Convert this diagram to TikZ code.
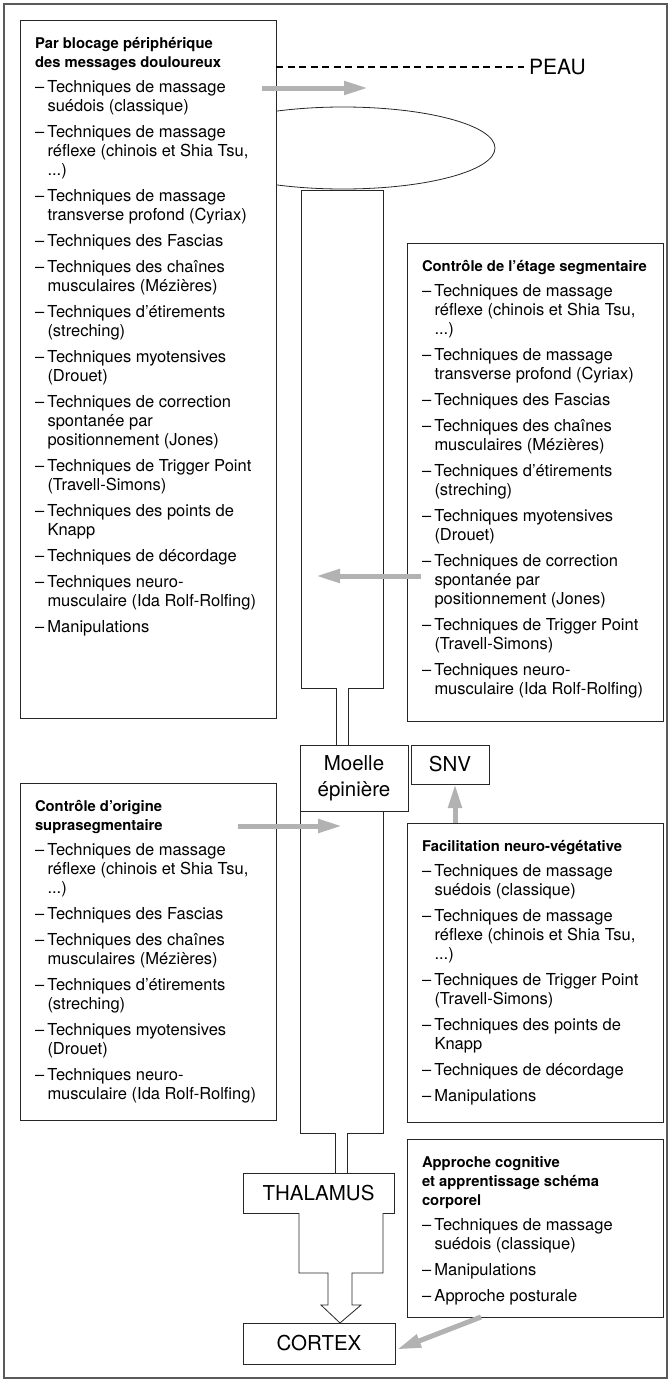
\documentclass[tikz,border=0pt]{standalone}
\usepackage{fontspec}
\setmainfont{TeX Gyre Heros}
\usetikzlibrary{arrows.meta,
                calc,
                positioning}
\newcommand{\dsh}{\makebox[12.5pt][l]{–}}
\newcommand{\ttl}[1]{\multicolumn{2}{@{}l@{}}{\fontsize{14.8}{19}\selectfont\bfseries #1}}
\newcommand{\bloc}[2]{\parbox[c][#1][t]{226pt}{\vspace*{15pt}\noindent
  \begin{tabular}[t]{@{}l@{}l@{}}#2\end{tabular}}}

\begin{document}
\begin{tikzpicture}[x=1pt, y=-1pt,
  TBOX/.style = {draw=black!85, line width=0.9pt, fill=white,
                 anchor=north west, inner xsep=15pt, inner ysep=0pt,
                 outer sep=0pt, font=\fontsize{16.5}{19}\selectfont},
   LBL/.style = {draw=black!85, line width=0.9pt, fill=white,
                 anchor=north west, inner sep=0pt, outer sep=0pt,
                 align=center, font=\fontsize{20.5}{26}\selectfont},
    GA/.style = {draw=black!30, line width=5pt,
                 -{Triangle[length=24pt,width=13pt]}},% Gray Arrow
  TUBE/.style = {draw=black!85, line width=0.8pt}%  spinal tube
                        ]
\useasboundingbox (0,0) rectangle (671,1382);
\draw[line width=1.6pt, black!65] (4,4) rectangle (667,1378);
% skin
\draw[TUBE] (343,148) ellipse [x radius=152pt, y radius=41pt];
% left boxes
\node[TBOX] (blocage) at (20,20) {\bloc{698pt}{%
  \ttl{Par blocage périphérique}\\
  \ttl{des messages douloureux}\\[6pt]
  \dsh & Techniques de massage\\
       & suédois (classique)\\[7pt]
  \dsh & Techniques de massage\\
       & réflexe (chinois et Shia Tsu,\\
       & ...)\\[7pt]
  \dsh & Techniques de massage\\
       & transverse profond (Cyriax)\\[7pt]
  \dsh & Techniques des Fascias\\[7pt]
  \dsh & Techniques des chaînes\\
       & musculaires (Mézières)\\[7pt]
  \dsh & Techniques d’étirements\\
       & (streching)\\[7pt]
  \dsh & Techniques myotensives\\
       & (Drouet)\\[7pt]
  \dsh & Techniques de correction\\
       & spontanée par\\
       & positionnement (Jones)\\[7pt]
  \dsh & Techniques de Trigger Point\\
       & (Travell-Simons)\\[7pt]
  \dsh & Techniques des points de\\
       & Knapp\\[7pt]
  \dsh & Techniques de décordage\\[7pt]
  \dsh & Techniques neuro-\\
       & musculaire (Ida Rolf-Rolfing)\\[7pt]
  \dsh & Manipulations}};
\node[TBOX] (supra) at (20,783) {\bloc{337pt}{%
  \ttl{Contrôle d’origine}\\
  \ttl{suprasegmentaire}\\[6pt]
  \dsh & Techniques de massage\\
       & réflexe (chinois et Shia Tsu,\\
       & ...)\\[7pt]
  \dsh & Techniques des Fascias\\[7pt]
  \dsh & Techniques des chaînes\\
       & musculaires (Mézières)\\[7pt]
  \dsh & Techniques d’étirements\\
       & (streching)\\[7pt]
  \dsh & Techniques myotensives\\
       & (Drouet)\\[7pt]
  \dsh & Techniques neuro-\\
       & musculaire (Ida Rolf-Rolfing)}};
% right boxes
\node[TBOX] (segment) at (407,243) {\bloc{478pt}{%
  \ttl{Contrôle de l’étage segmentaire}\\[6pt]
  \dsh & Techniques de massage\\
       & réflexe (chinois et Shia Tsu,\\
       & ...)\\[7pt]
  \dsh & Techniques de massage\\
       & transverse profond (Cyriax)\\[7pt]
  \dsh & Techniques des Fascias\\[7pt]
  \dsh & Techniques des chaînes\\
       & musculaires (Mézières)\\[7pt]
  \dsh & Techniques d’étirements\\
       & (streching)\\[7pt]
  \dsh & Techniques myotensives\\
       & (Drouet)\\[7pt]
  \dsh & Techniques de correction\\
       & spontanée par\\
       & positionnement (Jones)\\[7pt]
  \dsh & Techniques de Trigger Point\\
       & (Travell-Simons)\\[7pt]
  \dsh & Techniques neuro-\\
       & musculaire (Ida Rolf-Rolfing)}};
\node[TBOX] (facil) at (407,823) {\bloc{299pt}{%
  \ttl{Facilitation neuro-végétative}\\[6pt]
  \dsh & Techniques de massage\\
       & suédois (classique)\\[7pt]
  \dsh & Techniques de massage\\
       & réflexe (chinois et Shia Tsu,\\
       & ...)\\[7pt]
  \dsh & Techniques de Trigger Point\\
       & (Travell-Simons)\\[7pt]
  \dsh & Techniques des points de\\
       & Knapp\\[7pt]
  \dsh & Techniques de décordage\\[7pt]
  \dsh & Manipulations}};
\node[TBOX] (cognit) at (407,1139) {\bloc{178pt}{%
  \ttl{Approche cognitive}\\
  \ttl{et apprentissage schéma}\\
  \ttl{corporel}\\[6pt]
  \dsh & Techniques de massage\\
       & suédois (classique)\\[7pt]
  \dsh & Manipulations\\[7pt]
  \dsh & Approche posturale}};
% centre column
\node[LBL, minimum width=108pt, minimum height=66pt] (moelle) at (300,745) {Moelle\\épinière};
\node[LBL, minimum width=78pt, minimum height=39pt,
      right=3pt of moelle.north east, anchor=north west] (snv) {SNV};
\node[LBL, minimum width=151pt, minimum height=40pt] (thalamus) at (243,1173) {THALAMUS};
\node[LBL, minimum width=152pt, minimum height=41pt] (cortex) at (243,1323) {CORTEX};
\draw[TUBE] ([xshift=-18pt]moelle.north) |- (301,688) |- (383,190)
            |- (348,688) -- ([xshift=-6pt]moelle.north);
\draw[TUBE] (moelle.south west) |- (335,1133) -- (335,1173);
\draw[TUBE] (383,811) |- (347,1133) -- (347,1173);
\draw[TUBE, fill=white] (299,1213) |- (328,1273) |- (321,1305) -- (cortex.north -| 340,0)
            -- (361,1305) -| (352,1273) -| (383,1213);
% skin line
\coordinate (dashend) at (524,67);
\draw[line width=2pt, dash pattern=on 7pt off 4.5pt] (blocage.north east |- dashend) -- (dashend);
\node[inner sep=0pt, font=\fontsize{21}{26}\selectfont, right=5pt of dashend] (peau) {PEAU};
% gray arrows
\coordinate (p1) at (368,88);
\coordinate (p2) at (316,576);
\coordinate (p3) at (342,826);
\draw[GA] ($(blocage.east |- p1)+(-14,0)$) -- (p1);
\draw[GA] ($(segment.west |- p2)+(14,0)$) -- (p2);
\draw[GA] ($(supra.east |- p3)+(-38,0)$) -- (p3);
\draw[GA] ([xshift=5pt]facil.north -| snv.south) -- ([xshift=5pt]snv.south);
\draw[GA] ($(cognit.south)+(-54,0)$) -- ($(cortex.east)+(2,6)$);
\end{tikzpicture}
\end{document}
